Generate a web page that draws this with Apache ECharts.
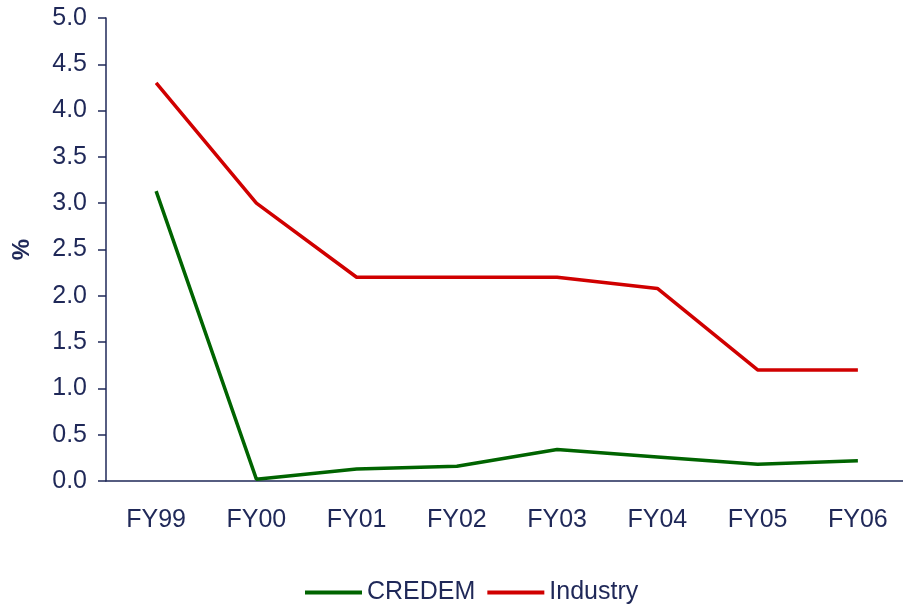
<!DOCTYPE html>
<html>
<head>
<meta charset="utf-8">
<script src="https://cdn.jsdelivr.net/npm/echarts@6/dist/echarts.min.js"></script>
<style>
  html, body { margin: 0; padding: 0; background: #ffffff; }
  #chart { width: 903px; height: 605px; }
</style>
</head>
<body>
<div id="chart"></div>
<script>
// Fiscal years on the category axis
const years = ['FY99', 'FY00', 'FY01', 'FY02', 'FY03', 'FY04', 'FY05', 'FY06'];
// Ratios in percent
const credem = [3.13, 0.02, 0.13, 0.16, 0.34, 0.26, 0.18, 0.22];
const industry = [4.3, 3.0, 2.2, 2.2, 2.2, 2.08, 1.2, 1.2];
// Value axis range
const yMin = 0, yMax = 5, yStep = 0.5;

const ink = '#1f2858';
const font = 'Liberation Sans, Arial, sans-serif';

const chart = echarts.init(document.getElementById('chart'), null, { renderer: 'canvas' });
chart.setOption({
  animation: false,
  backgroundColor: '#ffffff',
  grid: { left: 106, right: -5, top: 18, bottom: 124, containLabel: false, outerBoundsMode: 'none' },
  legend: {
    top: 580,
    left: 305,
    padding: 0,
    itemWidth: 57,
    itemHeight: 4,
    itemGap: 12,
    icon: 'rect',
    textStyle: { color: ink, fontFamily: font, fontSize: 25 },
    data: ['CREDEM', 'Industry']
  },
  xAxis: {
    type: 'category',
    data: years,
    boundaryGap: true,
    axisLine: { lineStyle: { color: ink, width: 1.5 } },
    axisTick: { length: 9, lineStyle: { color: ink, width: 1.5 } },
    axisLabel: { color: ink, fontFamily: font, fontSize: 25, margin: 27 },
    splitLine: { show: false }
  },
  yAxis: {
    type: 'value',
    min: yMin,
    max: yMax,
    interval: yStep,
    name: '%',
    nameLocation: 'middle',
    nameGap: 72,
    nameRotate: 90,
    nameTextStyle: { color: ink, fontFamily: font, fontSize: 24, fontWeight: 'bold' },
    axisLine: { show: true, lineStyle: { color: ink, width: 1.5 } },
    axisTick: { show: true, length: 8, lineStyle: { color: ink, width: 1.5 } },
    axisLabel: {
      color: ink, fontFamily: font, fontSize: 25, margin: 19,
      formatter: v => v.toFixed(1)
    },
    splitLine: { show: false }
  },
  series: [
    {
      name: 'CREDEM',
      type: 'line',
      data: credem,
      symbol: 'none',
      lineStyle: { color: '#006400', width: 3.5 },
      itemStyle: { color: '#006400' }
    },
    {
      name: 'Industry',
      type: 'line',
      data: industry,
      symbol: 'none',
      lineStyle: { color: '#d00000', width: 3.5 },
      itemStyle: { color: '#d00000' }
    }
  ]
});
</script>
</body>
</html>
